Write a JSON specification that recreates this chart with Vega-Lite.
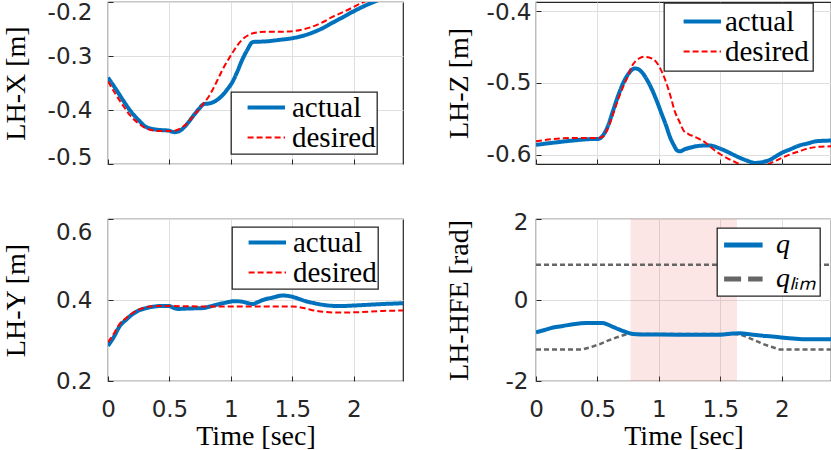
{
  "$schema": "https://vega.github.io/schema/vega-lite/v6.json",
  "padding": {"left": 1, "top": 0, "right": 0, "bottom": 0},
  "background": "white",
  "bounds": "flush",
  "columns": 2,
  "spacing": {"row": 55, "column": 133},
  "resolve": {
    "scale": {"x": "independent", "y": "independent", "color": "independent", "strokeDash": "independent", "strokeWidth": "independent"},
    "legend": {"color": "independent"}
  },
  "config": {
    "view": {"stroke": "#262626", "strokeWidth": 1.2},
    "axis": {
      "labelFont": "DejaVu Sans", "labelFontSize": 23, "labelColor": "#262626", "labelFlush": false,
      "titleFont": "Liberation Serif", "titleFontSize": 28, "titleFontWeight": "normal", "titleColor": "#000000",
      "titleBaseline": "alphabetic",
      "gridColor": "#dfdfdf", "gridWidth": 1, "domain": false,
      "tickColor": "#262626", "tickSize": -5, "tickWidth": 1
    },
    "axisX": {"labelPadding": 22, "titleY": 63, "format": "~g"},
    "axisY": {"labelPadding": 21, "titleX": -84, "titleY": 81},
    "legend": {
      "labelFont": "Liberation Serif", "labelFontSize": 29, "labelColor": "#000000",
      "fillColor": "#ffffff", "strokeColor": "#262626",
      "symbolType": "M0.2,0H7", "symbolSize": 121, "symbolStrokeWidth": 5,
      "rowPadding": 0, "orient": "none"
    }
  },
  "concat": [
    {
      "width": 295, "height": 162,
      "data": {"values": [
        {"t": 0, "v": -0.340, "series": "actual"}, {"t": 0.06, "v": -0.360, "series": "actual"}, {"t": 0.12, "v": -0.381, "series": "actual"},
        {"t": 0.18, "v": -0.401, "series": "actual"}, {"t": 0.25, "v": -0.419, "series": "actual"}, {"t": 0.30, "v": -0.430, "series": "actual"},
        {"t": 0.34, "v": -0.434, "series": "actual"}, {"t": 0.42, "v": -0.437, "series": "actual"}, {"t": 0.49, "v": -0.438, "series": "actual"},
        {"t": 0.54, "v": -0.441, "series": "actual"}, {"t": 0.58, "v": -0.439, "series": "actual"}, {"t": 0.61, "v": -0.434, "series": "actual"},
        {"t": 0.65, "v": -0.424, "series": "actual"}, {"t": 0.69, "v": -0.412, "series": "actual"}, {"t": 0.74, "v": -0.398, "series": "actual"},
        {"t": 0.78, "v": -0.389, "series": "actual"}, {"t": 0.82, "v": -0.388, "series": "actual"}, {"t": 0.85, "v": -0.386, "series": "actual"},
        {"t": 0.89, "v": -0.381, "series": "actual"}, {"t": 0.93, "v": -0.373, "series": "actual"}, {"t": 0.97, "v": -0.362, "series": "actual"},
        {"t": 1.01, "v": -0.349, "series": "actual"}, {"t": 1.05, "v": -0.330, "series": "actual"}, {"t": 1.09, "v": -0.308, "series": "actual"},
        {"t": 1.13, "v": -0.290, "series": "actual"}, {"t": 1.18, "v": -0.274, "series": "actual"}, {"t": 1.28, "v": -0.273, "series": "actual"},
        {"t": 1.40, "v": -0.270, "series": "actual"}, {"t": 1.50, "v": -0.267, "series": "actual"}, {"t": 1.58, "v": -0.263, "series": "actual"},
        {"t": 1.66, "v": -0.257, "series": "actual"}, {"t": 1.75, "v": -0.248, "series": "actual"}, {"t": 1.83, "v": -0.238, "series": "actual"},
        {"t": 1.92, "v": -0.227, "series": "actual"}, {"t": 2.00, "v": -0.217, "series": "actual"}, {"t": 2.08, "v": -0.208, "series": "actual"},
        {"t": 2.15, "v": -0.201, "series": "actual"}, {"t": 2.25, "v": -0.192, "series": "actual"}, {"t": 2.40, "v": -0.180, "series": "actual"},
        {"t": 0, "v": -0.347, "series": "desired"}, {"t": 0.06, "v": -0.370, "series": "desired"}, {"t": 0.12, "v": -0.391, "series": "desired"},
        {"t": 0.18, "v": -0.410, "series": "desired"}, {"t": 0.25, "v": -0.425, "series": "desired"}, {"t": 0.30, "v": -0.433, "series": "desired"},
        {"t": 0.35, "v": -0.437, "series": "desired"}, {"t": 0.42, "v": -0.439, "series": "desired"}, {"t": 0.50, "v": -0.439, "series": "desired"},
        {"t": 0.55, "v": -0.438, "series": "desired"}, {"t": 0.61, "v": -0.431, "series": "desired"}, {"t": 0.65, "v": -0.423, "series": "desired"},
        {"t": 0.69, "v": -0.412, "series": "desired"}, {"t": 0.74, "v": -0.399, "series": "desired"}, {"t": 0.78, "v": -0.387, "series": "desired"},
        {"t": 0.82, "v": -0.375, "series": "desired"}, {"t": 0.85, "v": -0.363, "series": "desired"}, {"t": 0.89, "v": -0.345, "series": "desired"},
        {"t": 0.93, "v": -0.326, "series": "desired"}, {"t": 0.97, "v": -0.310, "series": "desired"}, {"t": 1.01, "v": -0.295, "series": "desired"},
        {"t": 1.05, "v": -0.281, "series": "desired"}, {"t": 1.09, "v": -0.270, "series": "desired"}, {"t": 1.13, "v": -0.263, "series": "desired"},
        {"t": 1.18, "v": -0.258, "series": "desired"}, {"t": 1.28, "v": -0.255, "series": "desired"}, {"t": 1.40, "v": -0.255, "series": "desired"},
        {"t": 1.50, "v": -0.254, "series": "desired"}, {"t": 1.58, "v": -0.251, "series": "desired"}, {"t": 1.66, "v": -0.246, "series": "desired"},
        {"t": 1.75, "v": -0.237, "series": "desired"}, {"t": 1.83, "v": -0.227, "series": "desired"}, {"t": 1.92, "v": -0.218, "series": "desired"},
        {"t": 2.00, "v": -0.209, "series": "desired"}, {"t": 2.08, "v": -0.200, "series": "desired"}, {"t": 2.20, "v": -0.188, "series": "desired"},
        {"t": 2.40, "v": -0.170, "series": "desired"}
      ]},
      "mark": {"type": "line", "clip": true, "interpolate": "monotone"},
      "encoding": {
        "x": {"field": "t", "type": "quantitative", "scale": {"domain": [0, 2.4], "nice": false}, "axis": {"values": [0, 0.5, 1, 1.5, 2], "labels": false, "title": null}},
        "y": {"field": "v", "type": "quantitative", "scale": {"domain": [-0.5, -0.2], "nice": false}, "axis": {"values": [-0.5, -0.4, -0.3, -0.2], "title": "LH-X [m]",
          "labelOffset": {"condition": [{"test": "datum.value == -0.2", "value": 10}, {"test": "datum.value == -0.5", "value": -7}], "value": 0},
          "labelExpr": "replace(format(datum.value, '.1f'), '\u2212', '-')"}},
        "color": {"field": "series", "type": "nominal", "scale": {"domain": ["actual", "desired"], "range": ["#0072BD", "#FF0000"]},
          "legend": {"title": null, "legendX": 123, "legendY": 90, "padding": 1, "labelOffset": 31,
            "encode": {"symbols": {"update": {"strokeDash": {"signal": "datum.value == 'desired' ? [11, 5] : [1, 0]"}}}, "legend": {"update": {"strokeWidth": {"value": 1.3}}}}}},
        "strokeDash": {"field": "series", "type": "nominal", "scale": {"domain": ["actual", "desired"], "range": [[1, 0], [6, 3]]}, "legend": null},
        "strokeWidth": {"field": "series", "type": "nominal", "scale": {"domain": ["actual", "desired"], "range": [4, 2]}, "legend": null}
      }
    },
    {
      "width": 295, "height": 162,
      "data": {"values": [
        {"t": 0, "v": -0.586, "series": "actual"}, {"t": 0.14, "v": -0.583, "series": "actual"}, {"t": 0.30, "v": -0.580, "series": "actual"},
        {"t": 0.45, "v": -0.578, "series": "actual"}, {"t": 0.50, "v": -0.578, "series": "actual"}, {"t": 0.54, "v": -0.574, "series": "actual"},
        {"t": 0.58, "v": -0.562, "series": "actual"}, {"t": 0.63, "v": -0.537, "series": "actual"}, {"t": 0.67, "v": -0.517, "series": "actual"},
        {"t": 0.71, "v": -0.500, "series": "actual"}, {"t": 0.75, "v": -0.488, "series": "actual"}, {"t": 0.78, "v": -0.482, "series": "actual"},
        {"t": 0.81, "v": -0.480, "series": "actual"}, {"t": 0.84, "v": -0.482, "series": "actual"}, {"t": 0.87, "v": -0.487, "series": "actual"},
        {"t": 0.90, "v": -0.495, "series": "actual"}, {"t": 0.94, "v": -0.508, "series": "actual"}, {"t": 0.98, "v": -0.524, "series": "actual"},
        {"t": 1.02, "v": -0.542, "series": "actual"}, {"t": 1.06, "v": -0.560, "series": "actual"}, {"t": 1.09, "v": -0.575, "series": "actual"},
        {"t": 1.12, "v": -0.586, "series": "actual"}, {"t": 1.15, "v": -0.594, "series": "actual"}, {"t": 1.17, "v": -0.595, "series": "actual"},
        {"t": 1.21, "v": -0.592, "series": "actual"}, {"t": 1.25, "v": -0.590, "series": "actual"}, {"t": 1.30, "v": -0.588, "series": "actual"},
        {"t": 1.36, "v": -0.587, "series": "actual"}, {"t": 1.42, "v": -0.587, "series": "actual"}, {"t": 1.48, "v": -0.590, "series": "actual"},
        {"t": 1.55, "v": -0.595, "series": "actual"}, {"t": 1.61, "v": -0.600, "series": "actual"}, {"t": 1.66, "v": -0.604, "series": "actual"},
        {"t": 1.72, "v": -0.608, "series": "actual"}, {"t": 1.78, "v": -0.611, "series": "actual"}, {"t": 1.84, "v": -0.610, "series": "actual"},
        {"t": 1.90, "v": -0.607, "series": "actual"}, {"t": 1.95, "v": -0.602, "series": "actual"}, {"t": 2.00, "v": -0.597, "series": "actual"},
        {"t": 2.07, "v": -0.592, "series": "actual"}, {"t": 2.14, "v": -0.587, "series": "actual"}, {"t": 2.21, "v": -0.584, "series": "actual"},
        {"t": 2.28, "v": -0.581, "series": "actual"}, {"t": 2.40, "v": -0.580, "series": "actual"},
        {"t": 0, "v": -0.581, "series": "desired"}, {"t": 0.14, "v": -0.578, "series": "desired"}, {"t": 0.30, "v": -0.5765, "series": "desired"},
        {"t": 0.50, "v": -0.5765, "series": "desired"}, {"t": 0.54, "v": -0.575, "series": "desired"}, {"t": 0.58, "v": -0.565, "series": "desired"},
        {"t": 0.63, "v": -0.542, "series": "desired"}, {"t": 0.67, "v": -0.522, "series": "desired"}, {"t": 0.71, "v": -0.505, "series": "desired"},
        {"t": 0.75, "v": -0.490, "series": "desired"}, {"t": 0.78, "v": -0.477, "series": "desired"}, {"t": 0.81, "v": -0.470, "series": "desired"},
        {"t": 0.84, "v": -0.466, "series": "desired"}, {"t": 0.88, "v": -0.464, "series": "desired"}, {"t": 0.92, "v": -0.465, "series": "desired"},
        {"t": 0.96, "v": -0.468, "series": "desired"}, {"t": 0.99, "v": -0.474, "series": "desired"}, {"t": 1.03, "v": -0.487, "series": "desired"},
        {"t": 1.06, "v": -0.500, "series": "desired"}, {"t": 1.10, "v": -0.522, "series": "desired"}, {"t": 1.13, "v": -0.540, "series": "desired"},
        {"t": 1.17, "v": -0.555, "series": "desired"}, {"t": 1.20, "v": -0.566, "series": "desired"}, {"t": 1.24, "v": -0.571, "series": "desired"},
        {"t": 1.28, "v": -0.574, "series": "desired"}, {"t": 1.33, "v": -0.578, "series": "desired"}, {"t": 1.38, "v": -0.583, "series": "desired"},
        {"t": 1.45, "v": -0.593, "series": "desired"}, {"t": 1.50, "v": -0.599, "series": "desired"}, {"t": 1.55, "v": -0.604, "series": "desired"},
        {"t": 1.61, "v": -0.609, "series": "desired"}, {"t": 1.66, "v": -0.613, "series": "desired"}, {"t": 1.72, "v": -0.616, "series": "desired"},
        {"t": 1.78, "v": -0.617, "series": "desired"}, {"t": 1.84, "v": -0.616, "series": "desired"}, {"t": 1.90, "v": -0.612, "series": "desired"},
        {"t": 1.95, "v": -0.608, "series": "desired"}, {"t": 2.00, "v": -0.604, "series": "desired"}, {"t": 2.07, "v": -0.599, "series": "desired"},
        {"t": 2.14, "v": -0.595, "series": "desired"}, {"t": 2.21, "v": -0.591, "series": "desired"}, {"t": 2.28, "v": -0.589, "series": "desired"},
        {"t": 2.40, "v": -0.588, "series": "desired"}
      ]},
      "mark": {"type": "line", "clip": true, "interpolate": "monotone"},
      "encoding": {
        "x": {"field": "t", "type": "quantitative", "scale": {"domain": [0, 2.4], "nice": false}, "axis": {"values": [0, 0.5, 1, 1.5, 2], "labels": false, "title": null}},
        "y": {"field": "v", "type": "quantitative", "scale": {"domain": [-0.6125, -0.388], "nice": false}, "axis": {"values": [-0.6, -0.5, -0.4], "title": "LH-Z [m]", "titleX": -69, "labelPadding": 10,
          "labelOffset": {"condition": {"test": "datum.value == -0.4", "value": 2}, "value": 0},
          "labelExpr": "replace(format(datum.value, '.1f'), '\u2212', '-')"}},
        "color": {"field": "series", "type": "nominal", "scale": {"domain": ["actual", "desired"], "range": ["#0072BD", "#FF0000"]},
          "legend": {"title": null, "legendX": 128, "legendY": 1, "padding": 4, "labelOffset": 28,
            "encode": {"symbols": {"update": {"strokeDash": {"signal": "datum.value == 'desired' ? [11, 5] : [1, 0]"}}}, "legend": {"update": {"strokeWidth": {"value": 1.3}}}}}},
        "strokeDash": {"field": "series", "type": "nominal", "scale": {"domain": ["actual", "desired"], "range": [[1, 0], [6, 3]]}, "legend": null},
        "strokeWidth": {"field": "series", "type": "nominal", "scale": {"domain": ["actual", "desired"], "range": [4, 2]}, "legend": null}
      }
    },
    {
      "width": 295, "height": 162,
      "data": {"values": [
        {"t": 0, "v": 0.287, "series": "actual"}, {"t": 0.05, "v": 0.310, "series": "actual"}, {"t": 0.09, "v": 0.333, "series": "actual"},
        {"t": 0.15, "v": 0.352, "series": "actual"}, {"t": 0.20, "v": 0.365, "series": "actual"}, {"t": 0.25, "v": 0.374, "series": "actual"},
        {"t": 0.31, "v": 0.380, "series": "actual"}, {"t": 0.36, "v": 0.383, "series": "actual"}, {"t": 0.42, "v": 0.385, "series": "actual"},
        {"t": 0.50, "v": 0.385, "series": "actual"}, {"t": 0.53, "v": 0.381, "series": "actual"}, {"t": 0.57, "v": 0.378, "series": "actual"},
        {"t": 0.65, "v": 0.379, "series": "actual"}, {"t": 0.77, "v": 0.380, "series": "actual"}, {"t": 0.83, "v": 0.384, "series": "actual"},
        {"t": 0.88, "v": 0.388, "series": "actual"}, {"t": 0.95, "v": 0.393, "series": "actual"}, {"t": 1.03, "v": 0.397, "series": "actual"},
        {"t": 1.09, "v": 0.396, "series": "actual"}, {"t": 1.14, "v": 0.392, "series": "actual"}, {"t": 1.18, "v": 0.390, "series": "actual"},
        {"t": 1.22, "v": 0.395, "series": "actual"}, {"t": 1.26, "v": 0.400, "series": "actual"}, {"t": 1.34, "v": 0.406, "series": "actual"},
        {"t": 1.42, "v": 0.411, "series": "actual"}, {"t": 1.50, "v": 0.408, "series": "actual"}, {"t": 1.56, "v": 0.402, "series": "actual"},
        {"t": 1.61, "v": 0.397, "series": "actual"}, {"t": 1.68, "v": 0.392, "series": "actual"}, {"t": 1.75, "v": 0.388, "series": "actual"},
        {"t": 1.88, "v": 0.385, "series": "actual"}, {"t": 2.04, "v": 0.387, "series": "actual"}, {"t": 2.23, "v": 0.390, "series": "actual"},
        {"t": 2.40, "v": 0.392, "series": "actual"},
        {"t": 0, "v": 0.296, "series": "desired"}, {"t": 0.05, "v": 0.318, "series": "desired"}, {"t": 0.09, "v": 0.339, "series": "desired"},
        {"t": 0.15, "v": 0.356, "series": "desired"}, {"t": 0.20, "v": 0.368, "series": "desired"}, {"t": 0.25, "v": 0.376, "series": "desired"},
        {"t": 0.31, "v": 0.382, "series": "desired"}, {"t": 0.40, "v": 0.385, "series": "desired"}, {"t": 0.50, "v": 0.385, "series": "desired"},
        {"t": 0.80, "v": 0.384, "series": "desired"}, {"t": 1.20, "v": 0.384, "series": "desired"}, {"t": 1.50, "v": 0.384, "series": "desired"},
        {"t": 1.56, "v": 0.382, "series": "desired"}, {"t": 1.61, "v": 0.379, "series": "desired"}, {"t": 1.68, "v": 0.374, "series": "desired"},
        {"t": 1.75, "v": 0.371, "series": "desired"}, {"t": 1.88, "v": 0.369, "series": "desired"}, {"t": 2.04, "v": 0.370, "series": "desired"},
        {"t": 2.23, "v": 0.373, "series": "desired"}, {"t": 2.40, "v": 0.374, "series": "desired"}
      ]},
      "mark": {"type": "line", "clip": true, "interpolate": "monotone"},
      "encoding": {
        "x": {"field": "t", "type": "quantitative", "scale": {"domain": [0, 2.4], "nice": false}, "axis": {"values": [0, 0.5, 1, 1.5, 2], "title": "Time [sec]"}},
        "y": {"field": "v", "type": "quantitative", "scale": {"domain": [0.2, 0.6], "nice": false}, "axis": {"values": [0.2, 0.4, 0.6], "title": "LH-Y [m]",
          "labelOffset": {"condition": {"test": "datum.value == 0.6", "value": 13}, "value": 0},
          "labelExpr": "format(datum.value, '.1f')"}},
        "color": {"field": "series", "type": "nominal", "scale": {"domain": ["actual", "desired"], "range": ["#0072BD", "#FF0000"]},
          "legend": {"title": null, "legendX": 124, "legendY": 8, "padding": 1, "labelOffset": 31,
            "encode": {"symbols": {"update": {"strokeDash": {"signal": "datum.value == 'desired' ? [11, 5] : [1, 0]"}}}, "legend": {"update": {"strokeWidth": {"value": 1.3}}}}}},
        "strokeDash": {"field": "series", "type": "nominal", "scale": {"domain": ["actual", "desired"], "range": [[1, 0], [6, 3]]}, "legend": null},
        "strokeWidth": {"field": "series", "type": "nominal", "scale": {"domain": ["actual", "desired"], "range": [4, 2]}, "legend": null}
      }
    },
    {
      "width": 295, "height": 162,
      "layer": [
        {
          "data": {"values": [{"start": 0.77, "end": 1.635}]},
          "mark": {"type": "rect", "color": "#f06464", "opacity": 0.17},
          "encoding": {
            "x": {"field": "start", "type": "quantitative", "scale": {"domain": [0, 2.4], "nice": false}},
            "x2": {"field": "end"}
          }
        },
        {
          "data": {"values": [
            {"t": 0, "v": 0.87, "part": "upper", "series": "q_lim"}, {"t": 2.40, "v": 0.87, "part": "upper", "series": "q_lim"},
            {"t": 0, "v": -1.22, "part": "lower", "series": "q_lim"}, {"t": 0.38, "v": -1.22, "part": "lower", "series": "q_lim"},
            {"t": 0.45, "v": -1.16, "part": "lower", "series": "q_lim"}, {"t": 0.52, "v": -1.09, "part": "lower", "series": "q_lim"},
            {"t": 0.58, "v": -1.01, "part": "lower", "series": "q_lim"}, {"t": 0.65, "v": -0.93, "part": "lower", "series": "q_lim"},
            {"t": 0.71, "v": -0.87, "part": "lower", "series": "q_lim"}, {"t": 0.76, "v": -0.83, "part": "lower", "series": "q_lim"},
            {"t": 0.80, "v": -0.84, "part": "lower", "series": "q_lim"}, {"t": 1.63, "v": -0.84, "part": "lower", "series": "q_lim"},
            {"t": 1.68, "v": -0.87, "part": "lower", "series": "q_lim"}, {"t": 1.76, "v": -0.97, "part": "lower", "series": "q_lim"},
            {"t": 1.85, "v": -1.09, "part": "lower", "series": "q_lim"}, {"t": 1.92, "v": -1.16, "part": "lower", "series": "q_lim"},
            {"t": 1.98, "v": -1.22, "part": "lower", "series": "q_lim"}, {"t": 2.40, "v": -1.22, "part": "lower", "series": "q_lim"}
          ]},
          "mark": {"type": "line", "clip": true, "strokeWidth": 2.5, "strokeDash": [5, 3]},
          "encoding": {
            "x": {"field": "t", "type": "quantitative", "scale": {"domain": [0, 2.4], "nice": false}, "axis": {"values": [0, 0.5, 1, 1.5, 2], "title": "Time [sec]"}},
            "y": {"field": "v", "type": "quantitative", "scale": {"domain": [-2, 2], "nice": false}, "axis": {"values": [-2, 0, 2], "title": "LH-HFE [rad]", "titleX": -69, "labelPadding": 13,
              "labelOffset": {"condition": {"test": "datum.value == 2", "value": 3}, "value": 0},
              "labelExpr": "replace(format(datum.value, 'd'), '\u2212', '-')"}},
            "detail": {"field": "part"},
            "color": {"field": "series", "type": "nominal", "scale": {"domain": ["q", "q_lim"], "range": ["#0072BD", "#666666"]},
              "legend": {"title": null, "legendX": 181, "legendY": 9, "padding": 3, "rowPadding": 6, "labelOffset": 28, "labelFontSize": 28, "labelFontStyle": "italic",
                "symbolType": "M-1.8,0H5.2",
                "labelExpr": "datum.value == 'q_lim' ? 'q\u2097\u1d62\u2098' : 'q'",
                "encode": {"symbols": {"update": {"strokeDash": {"signal": "datum.value == 'q_lim' ? [17, 7] : [1, 0]"}}}, "legend": {"update": {"strokeWidth": {"value": 1.3}}}}}}
          }
        },
        {
          "data": {"values": [
            {"t": 0, "v": -0.80, "series": "q"}, {"t": 0.07, "v": -0.74, "series": "q"}, {"t": 0.14, "v": -0.68, "series": "q"},
            {"t": 0.22, "v": -0.64, "series": "q"}, {"t": 0.30, "v": -0.60, "series": "q"}, {"t": 0.41, "v": -0.57, "series": "q"},
            {"t": 0.54, "v": -0.57, "series": "q"}, {"t": 0.58, "v": -0.60, "series": "q"}, {"t": 0.63, "v": -0.67, "series": "q"},
            {"t": 0.67, "v": -0.72, "series": "q"}, {"t": 0.71, "v": -0.77, "series": "q"}, {"t": 0.75, "v": -0.81, "series": "q"},
            {"t": 0.79, "v": -0.84, "series": "q"}, {"t": 0.85, "v": -0.85, "series": "q"}, {"t": 1.00, "v": -0.85, "series": "q"},
            {"t": 1.30, "v": -0.86, "series": "q"}, {"t": 1.50, "v": -0.855, "series": "q"}, {"t": 1.60, "v": -0.83, "series": "q"},
            {"t": 1.66, "v": -0.82, "series": "q"}, {"t": 1.75, "v": -0.85, "series": "q"}, {"t": 1.87, "v": -0.89, "series": "q"},
            {"t": 1.98, "v": -0.92, "series": "q"}, {"t": 2.09, "v": -0.95, "series": "q"}, {"t": 2.20, "v": -0.97, "series": "q"},
            {"t": 2.40, "v": -0.97, "series": "q"}
          ]},
          "mark": {"type": "line", "clip": true, "strokeWidth": 4, "interpolate": "monotone"},
          "encoding": {
            "x": {"field": "t", "type": "quantitative", "scale": {"domain": [0, 2.4], "nice": false}},
            "y": {"field": "v", "type": "quantitative"},
            "color": {"field": "series", "type": "nominal"}
          }
        }
      ]
    }
  ]
}
